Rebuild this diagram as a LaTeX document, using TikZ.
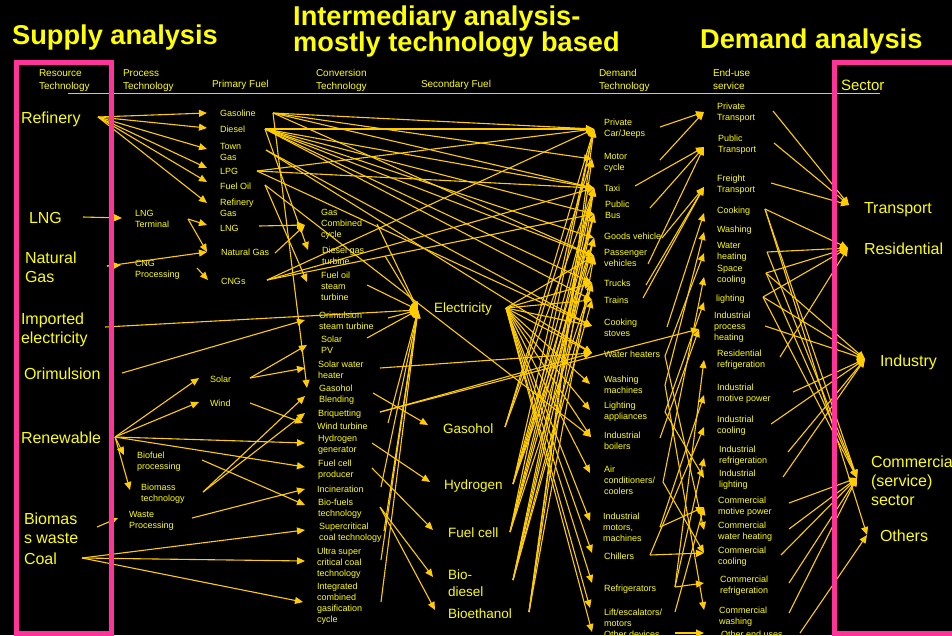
\documentclass[tikz,border=0pt]{standalone}
\usepackage{fontspec}
\setmainfont{Liberation Sans}
\usetikzlibrary{arrows.meta}
\definecolor{lncol}{HTML}{FFCC00}
\definecolor{txcol}{HTML}{FFFF00}
\definecolor{pkcol}{HTML}{FF3399}
\begin{document}
\begin{tikzpicture}[x=1pt,y=-1pt,
  lab/.style={anchor=north west,inner sep=0pt,outer sep=0pt,align=left,text=txcol},
  sm/.style={lab,font=\fontsize{9}{11}\selectfont,yshift=4.5pt},
  hd/.style={lab,font=\fontsize{10}{12.5}\selectfont,yshift=5.2pt},
  md/.style={lab,font=\fontsize{13.5}{16.5}\selectfont,yshift=7pt},
  lg/.style={lab,font=\fontsize{16}{19}\selectfont,yshift=7.6pt},
  sec/.style={lab,font=\fontsize{15}{18}\selectfont,yshift=7.2pt},
  ttl/.style={anchor=west,inner sep=0pt,text=txcol,font=\fontsize{27.2}{31}\selectfont\bfseries},
  arr/.style={draw=lncol,line width=1.1pt,-{Triangle[length=8pt,width=7pt]}},
  pinkbox/.style={draw=pkcol,line width=5pt},
  rule/.style={draw=lncol,line width=1pt}]
\fill[black] (0,0) rectangle (952,635);
\useasboundingbox (0,0) rectangle (952,635);

% titles
\node[ttl] (t1) at (12,37) {Supply analysis};
\node[ttl] (t2) at (293,18) {Intermediary analysis-};
\node[ttl] (t3) at (293,45) {mostly technology based};
\node[ttl] (t4) at (700,41) {Demand analysis};

% headers
\node[hd] (h1) at (39,73) {\strut Resource\\Technology};
\node[hd] (h2) at (123,73) {\strut Process\\Technology};
\node[hd] (h3) at (212,84) {\strut Primary Fuel};
\node[hd] (h4) at (316,73) {\strut Conversion\\Technology};
\node[hd] (h5) at (421,84) {\strut Secondary Fuel};
\node[hd] (h6) at (599,73) {\strut Demand\\Technology};
\node[hd] (h7) at (713,73) {\strut End-use\\service};
\node[sec] (h8) at (841,85) {\strut Sector};
\coordinate (rulea) at (68,93);
\coordinate (ruleb) at (880,93);
\draw[rule] (rulea) -- (ruleb);

% resource technology
\node[lg] (refinery) at (21,118) {\strut Refinery};
\node[lg] (lng) at (29,218) {\strut LNG};
\node[lg] (ngas) at (25,258) {\strut Natural\\Gas};
\node[lg] (impel) at (21,319) {\strut Imported\\electricity};
\node[lg] (orim) at (24,374) {\strut Orimulsion};
\node[lg] (renew) at (21,438) {\strut Renewable};
\node[lg] (biow) at (24,519) {\strut Biomas\\s waste};
\node[lg] (coal) at (24,559) {\strut Coal};

% process technology
\node[sm] (lngt) at (135,213) {\strut LNG\\Terminal};
\node[sm] (cngp) at (135,263) {\strut CNG\\Processing};
\node[sm] (biofp) at (137,455) {\strut Biofuel\\processing};
\node[sm] (biomt) at (141,487) {\strut Biomass\\technology};
\node[sm] (wastep) at (129,514) {\strut Waste\\Processing};

% primary fuel
\node[sm] (gasoline) at (220,113) {\strut Gasoline};
\node[sm] (diesel) at (220,129) {\strut Diesel};
\node[sm] (towngas) at (220,146) {\strut Town\\Gas};
\node[sm] (lpg) at (220,171) {\strut LPG};
\node[sm] (fueloil) at (220,186) {\strut Fuel Oil};
\node[sm] (refgas) at (220,202) {\strut Refinery\\Gas};
\node[sm] (lngp) at (220,228) {\strut LNG};
\node[sm] (natgas) at (221,252) {\strut Natural Gas};
\node[sm] (cngs) at (221,281) {\strut CNGs};
\node[sm] (solar) at (210,379) {\strut Solar};
\node[sm] (wind) at (210,403) {\strut Wind};

% conversion technology
\node[sm] (gcc) at (321,212) {\strut Gas\\Combined\\cycle};
\node[sm] (dgt) at (322,250) {\strut Diesel gas\\turbine};
\node[sm] (fost) at (321,275) {\strut Fuel oil\\steam\\turbine};
\node[sm] (orst) at (319,315) {\strut Orimulsion\\steam turbine};
\node[sm] (spv) at (321,339) {\strut Solar\\PV};
\node[sm] (swh) at (318,364) {\strut Solar water\\heater};
\node[sm] (gasb) at (319,388) {\strut Gasohol\\Blending};
\node[sm] (briq) at (318,413) {\strut Briquetting};
\node[sm] (windt) at (317,426) {\strut Wind turbine};
\node[sm] (hydg) at (318,438) {\strut Hydrogen\\generator};
\node[sm] (fcp) at (318,463) {\strut Fuel cell\\producer};
\node[sm] (incin) at (317,489) {\strut Incineration};
\node[sm] (bioft) at (318,502) {\strut Bio-fuels\\technology};
\node[sm] (scct) at (319,526) {\strut Supercritical\\coal technology};
\node[sm] (usc) at (317,551) {\strut Ultra super\\critical coal\\technology};
\node[sm] (igcc) at (317,586) {\strut Integrated\\combined\\gasification\\cycle};

% secondary fuel
\node[md] (elec) at (434,308) {\strut Electricity};
\node[md] (gasohol) at (443,429) {\strut Gasohol};
\node[md] (hydrogen) at (444,485) {\strut Hydrogen};
\node[md] (fuelcell) at (448,533) {\strut Fuel cell};
\node[md] (biodiesel) at (448,575) {\strut Bio-\\diesel};
\node[md] (bioeth) at (448,614) {\strut Bioethanol};

% demand technology
\node[sm] (pcar) at (604,122) {\strut Private\\Car/Jeeps};
\node[sm] (mcyc) at (604,156) {\strut Motor\\cycle};
\node[sm] (taxi) at (604,188) {\strut Taxi};
\node[sm] (pbus) at (605,204) {\strut Public\\Bus};
\node[sm] (goods) at (604,236) {\strut Goods vehicle};
\node[sm] (passv) at (604,252) {\strut Passenger\\vehicles};
\node[sm] (trucks) at (604,283) {\strut Trucks};
\node[sm] (trains) at (604,300) {\strut Trains};
\node[sm] (cstove) at (604,322) {\strut Cooking\\stoves};
\node[sm] (wheat) at (604,354) {\strut Water heaters};
\node[sm] (wmach) at (604,379) {\strut Washing\\machines};
\node[sm] (light) at (604,405) {\strut Lighting\\appliances};
\node[sm] (iboil) at (604,435) {\strut Industrial\\boilers};
\node[sm] (aircon) at (604,469) {\strut Air\\conditioners/\\coolers};
\node[sm] (imotor) at (603,516) {\strut Industrial\\motors,\\machines};
\node[sm] (chill) at (604,556) {\strut Chillers};
\node[sm] (refr) at (604,588) {\strut Refrigerators};
\node[sm] (lift) at (604,612) {\strut Lift/escalators/\\motors};
\node[sm] (other) at (604,634) {\strut Other devices};

% end-use service
\node[sm] (ptr) at (717,106) {\strut Private\\Transport};
\node[sm] (pubtr) at (718,138) {\strut Public\\Transport};
\node[sm] (frtr) at (717,178) {\strut Freight\\Transport};
\node[sm] (cook) at (717,210) {\strut Cooking};
\node[sm] (wash) at (717,229) {\strut Washing};
\node[sm] (wheating) at (717,245) {\strut Water\\heating};
\node[sm] (scool) at (717,268) {\strut Space\\cooling};
\node[sm] (lighting) at (716,298) {\strut lighting};
\node[sm] (iph) at (714,315) {\strut Industrial\\process\\heating};
\node[sm] (resref) at (717,353) {\strut Residential\\refrigeration};
\node[sm] (imp) at (717,387) {\strut Industrial\\motive power};
\node[sm] (icool) at (717,419) {\strut Industrial\\cooling};
\node[sm] (iref) at (719,449) {\strut Industrial\\refrigeration};
\node[sm] (ilight) at (719,473) {\strut Industrial\\lighting};
\node[sm] (cmp) at (718,500) {\strut Commercial\\motive power};
\node[sm] (cwh) at (718,525) {\strut Commercial\\water heating};
\node[sm] (ccool) at (718,550) {\strut Commercial\\cooling};
\node[sm] (cref) at (720,579) {\strut Commercial\\refrigeration};
\node[sm] (cwash) at (719,610) {\strut Commercial\\washing};
\node[sm] (oeu) at (721,634) {\strut Other end uses};

% sector
\node[lg] (transport) at (864,208) {\strut Transport};
\node[lg] (residential) at (864,249) {\strut Residential};
\node[lg] (industry) at (880,361) {\strut Industry};
\node[lg] (commercial) at (871,462) {\strut Commercial\\(service)\\sector};
\node[lg] (others) at (880,536) {\strut Others};

% ---------- connector ports ----------
\coordinate (refinery-o) at (98,117);
\coordinate (lng-o) at (83,217);
\coordinate (ngas-o) at (107,266);
\coordinate (impel-o) at (105,327);
\coordinate (orim-o) at (122,373);
\coordinate (renew-o) at (115,437);
\coordinate (biow-o) at (97,527);
\coordinate (coal-o) at (82,558);

\coordinate (lngt-i) at (122,218);   \coordinate (lngt-o) at (188,219);
\coordinate (cngp-i) at (121,265);   \coordinate (cngp-o) at (197,268);
\coordinate (biofp-i) at (124,455);  \coordinate (biofp-o) at (202,460);
\coordinate (biomt-i) at (130,490);  \coordinate (biomt-o) at (203,492);
\coordinate (wastep-i) at (118,518); \coordinate (wastep-o) at (192,518);

\coordinate (gasoline-i) at (207,113); \coordinate (gasoline-o) at (273,113);
\coordinate (diesel-i) at (207,128);   \coordinate (diesel-o) at (265,129);
\coordinate (towngas-i) at (207,149);  \coordinate (towngas-o) at (266,150);
\coordinate (lpg-i) at (207,168);      \coordinate (lpg-o) at (257,171);
\coordinate (fueloil-i) at (207,182);  \coordinate (fueloil-o) at (265,185);
\coordinate (refgas-i) at (207,203);
\coordinate (lngp-i) at (207,225);     \coordinate (lngp-o) at (259,226);
\coordinate (natgas-i) at (207,252);   \coordinate (natgas-o) at (275,253);
\coordinate (cngs-i) at (208,280);     \coordinate (cngs-o) at (267,280);
\coordinate (solar-i) at (199,378);    \coordinate (solar-o) at (250,378);
\coordinate (wind-i) at (199,402);     \coordinate (wind-o) at (250,403);

\coordinate (gcc-i) at (305,225);   \coordinate (gcc-o) at (377,224);
\coordinate (dgt-i) at (308,250);   \coordinate (dgt-o) at (385,256);
\coordinate (fost-i) at (307,282);  \coordinate (fost-o) at (367,285);
\coordinate (orst-i) at (305,320);  \coordinate (orst-o) at (388,318);
\coordinate (spv-i) at (307,345);   \coordinate (spv-o) at (367,338);
\coordinate (swh-i) at (305,368);   \coordinate (swh-o) at (380,368);
\coordinate (gasb-i) at (307,388);  \coordinate (gasbb-i) at (305,396);
\coordinate (gasb-o) at (373,393);
\coordinate (briq-i) at (305,413);  \coordinate (briq-o) at (380,412);
\coordinate (windt-i) at (303,423); \coordinate (windt-o) at (388,423);
\coordinate (hydg-i) at (305,443);  \coordinate (hydg-o) at (372,443);
\coordinate (fcp-i) at (305,467);   \coordinate (fcp-o) at (372,468);
\coordinate (incin-i) at (305,489); \coordinate (incin-o) at (381,487);
\coordinate (bioft-i) at (305,505); \coordinate (bioft-o) at (380,507);
\coordinate (scct-i) at (305,530);  \coordinate (scct-o) at (384,531);
\coordinate (usc-i) at (305,561);   \coordinate (usc-o) at (381,560);
\coordinate (igcc-i) at (303,602);  \coordinate (igcc-o) at (381,602);

\coordinate (elec-i) at (418,310);      \coordinate (elec-o) at (506,308);
\coordinate (gasohol-i) at (428,425);   \coordinate (gasohol-o) at (505,427);
\coordinate (hydrogen-i) at (430,482);  \coordinate (hydrogen-o) at (513,484);
\coordinate (fuelcell-i) at (433,530);  \coordinate (fuelcell-o) at (510,532);
\coordinate (biodiesel-i) at (433,577); \coordinate (biodiesel-o) at (513,580);
\coordinate (bioeth-i) at (435,610);    \coordinate (bioeth-o) at (529,612);

\coordinate (pcar-i) at (594,129);   \coordinate (pcar-o) at (660,127);
\coordinate (mcyc-i) at (592,159);   \coordinate (mcyc-o) at (660,160);
\coordinate (taxi-i) at (594,188);   \coordinate (taxi-o) at (635,186);
\coordinate (pbus-i) at (594,214);   \coordinate (pbus-o) at (650,208);
\coordinate (goods-i) at (594,238);  \coordinate (goods-o) at (662,238);
\coordinate (passv-i) at (594,256);  \coordinate (passv-o) at (648,264);
\coordinate (trucks-i) at (592,283); \coordinate (trucks-o) at (646,285);
\coordinate (trains-i) at (592,300); \coordinate (trains-o) at (643,298);
\coordinate (cstove-i) at (592,326); \coordinate (cstove-o) at (667,327);
\coordinate (wheat-i) at (592,353);  \coordinate (wheat-o) at (665,356);
\coordinate (wmach-i) at (590,384);  \coordinate (wmach-o) at (665,385);
\coordinate (light-i) at (590,410);  \coordinate (light-o) at (665,412);
\coordinate (iboil-i) at (591,437);  \coordinate (iboil-o) at (660,438);
\coordinate (aircon-i) at (590,473); \coordinate (aircon-o) at (663,482);
\coordinate (imotor-i) at (590,521); \coordinate (imotor-o) at (660,527);
\coordinate (chill-i) at (592,553);  \coordinate (chill-o) at (650,555);
\coordinate (refr-i) at (592,583);   \coordinate (refr-o) at (675,587);
\coordinate (lift-i) at (590,608);   \coordinate (lift-o) at (675,612);
\coordinate (other-i) at (592,632);  \coordinate (other-o) at (675,633);

\coordinate (ptr-i) at (704,112);      \coordinate (ptr-o) at (773,111);
\coordinate (pubtr-i) at (704,147);    \coordinate (pubtr-o) at (774,143);
\coordinate (frtr-i) at (704,187);     \coordinate (frtr-o) at (771,183);
\coordinate (cook-i) at (704,213);     \coordinate (cook-o) at (765,209);
\coordinate (wash-i) at (704,232);
\coordinate (wheating-i) at (704,253); \coordinate (wheating-o) at (767,252);
\coordinate (scool-i) at (704,277);    \coordinate (scool-o) at (766,273);
\coordinate (lighting-i) at (704,302); \coordinate (lighting-o) at (763,297);
\coordinate (iph-i) at (699,329);      \coordinate (iph-o) at (765,326);
\coordinate (resref-i) at (704,360);   \coordinate (resref-o) at (780,357);
\coordinate (imp-i) at (704,395);      \coordinate (imp-o) at (793,392);
\coordinate (icool-i) at (704,427);    \coordinate (icool-o) at (771,424);
\coordinate (iref-i) at (704,458);     \coordinate (iref-o) at (788,452);
\coordinate (ilight-i) at (704,478);   \coordinate (ilight-o) at (783,477);
\coordinate (cmp-i) at (704,507);      \coordinate (cmp-o) at (789,503);
\coordinate (cwh-i) at (704,530);      \coordinate (cwh-o) at (789,529);
\coordinate (ccool-i) at (704,553);    \coordinate (ccool-o) at (781,555);
\coordinate (cref-i) at (704,583);     \coordinate (cref-o) at (789,583);
\coordinate (cwash-i) at (704,610);    \coordinate (cwash-o) at (789,613);
\coordinate (oeu-i) at (704,633);      \coordinate (oeu-o) at (800,633);

\coordinate (transport-i) at (849,205);
\coordinate (residential-i) at (848,248);
\coordinate (industry-i) at (865,359);
\coordinate (commercial-i) at (857,478);
\coordinate (others-i) at (867,535);

% ---------- connectors ----------
\foreach \p/\q in {refinery/gasoline, refinery/diesel, refinery/towngas, refinery/lpg,
  refinery/fueloil, refinery/refgas, lng/lngt, lngt/lngp, lngt/natgas, ngas/cngp,
  ngas/natgas, cngp/cngs, impel/elec, orim/orst, renew/solar, renew/wind, renew/biofp,
  renew/biomt, renew/hydg, renew/fcp, biofp/bioft, biomt/gasbb, biomt/briq,
  biow/wastep, wastep/incin, coal/scct, coal/usc, coal/igcc, solar/spv, solar/swh,
  wind/windt}
  \draw[arr] (\p-o) -- (\q-i);

\foreach \p/\q in {gasoline/gasb, diesel/dgt, fueloil/fost, lngp/gcc, natgas/gcc,
  gcc/elec, dgt/elec, fost/elec, orst/elec, spv/elec, windt/elec, incin/elec,
  scct/elec, usc/elec, igcc/elec, gasb/gasohol, hydg/hydrogen, fcp/fuelcell,
  bioft/biodiesel, bioft/bioeth}
  \draw[arr] (\p-o) -- (\q-i);

\foreach \p/\q in {swh/wheat, briq/wheat, briq/iph,
  gasoline/pcar, gasoline/mcyc, gasoline/taxi, gasoline/passv,
  diesel/pcar, diesel/taxi, diesel/pbus, diesel/goods, diesel/passv, diesel/trucks,
  diesel/trains, towngas/cstove, towngas/wheat, lpg/pcar, lpg/taxi, lpg/cstove,
  fueloil/iboil, cngs/pcar, cngs/taxi, cngs/pbus,
  elec/passv, elec/trucks, elec/trains, elec/cstove, elec/wheat, elec/wmach,
  elec/light, elec/iboil, elec/aircon, elec/imotor, elec/chill, elec/refr,
  elec/lift, elec/other,
  gasohol/pcar, gasohol/mcyc, gasohol/taxi,
  hydrogen/pcar, hydrogen/taxi, hydrogen/pbus, hydrogen/passv, hydrogen/goods,
  fuelcell/pcar, fuelcell/taxi, fuelcell/pbus, fuelcell/goods, fuelcell/trucks,
  biodiesel/pbus, biodiesel/goods, biodiesel/trucks, biodiesel/trains, biodiesel/taxi,
  bioeth/pcar, bioeth/mcyc, bioeth/taxi, bioeth/passv}
  \draw[arr] (\p-o) -- (\q-i);

\foreach \p/\q in {pcar/ptr, mcyc/ptr, taxi/pubtr, pbus/pubtr, passv/pubtr,
  goods/frtr, trucks/frtr, trains/frtr, cstove/cook, wmach/wash, wmach/cwash,
  wheat/wheating, wheat/cwh, light/lighting, light/ilight, iboil/iph,
  aircon/scool, aircon/ccool, imotor/imp, imotor/cmp, chill/icool, chill/ccool,
  refr/resref, refr/iref, refr/cref, lift/cmp, other/oeu}
  \draw[arr] (\p-o) -- (\q-i);

\foreach \p/\q in {ptr/transport, pubtr/transport, frtr/transport,
  cook/residential, cook/commercial, cook/others, wheating/residential,
  wheating/commercial, scool/residential, scool/industry, scool/commercial,
  lighting/residential, lighting/industry, lighting/commercial, iph/industry,
  resref/residential, imp/industry, icool/industry, iref/industry, ilight/industry,
  cmp/commercial, cwh/commercial, ccool/commercial, cref/commercial,
  cwash/commercial, oeu/others}
  \draw[arr] (\p-o) -- (\q-i);

% pink boxes
\coordinate (lbA) at (16.5,62);  \coordinate (lbB) at (111.5,633);
\coordinate (rbA) at (834,62);   \coordinate (rbB) at (962,633);
\draw[pinkbox] (lbA) rectangle (lbB);
\draw[pinkbox] (rbA) rectangle (rbB);
\end{tikzpicture}
\end{document}
